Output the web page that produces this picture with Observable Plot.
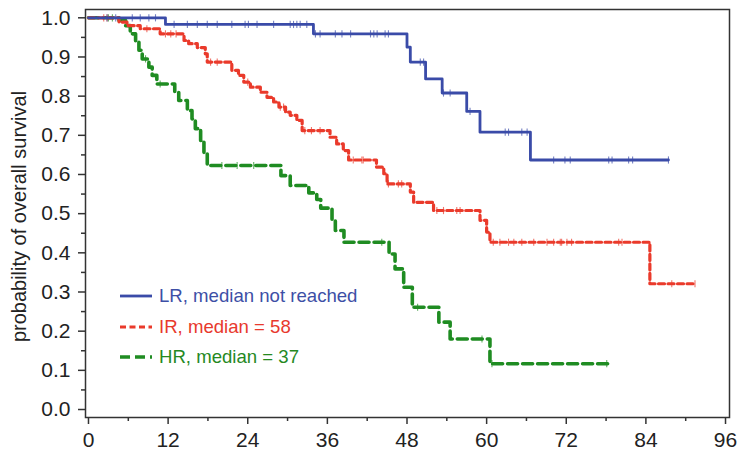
<!DOCTYPE html>
<html><head><meta charset="utf-8">
<script src="https://cdn.jsdelivr.net/npm/d3@7"></script>
<script src="https://cdn.jsdelivr.net/npm/@observablehq/plot@0.6"></script>
<style>
body{margin:0;background:#fff;font-family:"Liberation Sans",Arial,sans-serif}
#wrap{position:relative;width:743px;height:453px}
#legend{position:absolute;left:120px;top:281px;font-size:18.6px}
.row{display:flex;align-items:center;height:30.5px;white-space:nowrap}
.row svg{margin-right:7px;flex:none}
</style></head><body><div id="wrap"><div id="legend"></div></div>
<script>
// ---- data (months, survival probability) ----
const lrTimes = [0, 11.6, 33.9, 48.0, 48.5, 50.8, 53.3, 57.0, 59.0, 66.6];
const lrSurv  = [1.0, 0.983, 0.959, 0.925, 0.887, 0.844, 0.808, 0.761, 0.708, 0.637];
const lrEnd = 87.4;
const lrCensor = [2.8, 4.1, 6.6, 7.8, 9.1, 10.1, 12.9, 14.9, 16.4, 17.9, 19.4, 21.6, 23.6, 24.1, 25.4, 27.9, 30.4, 30.9, 31.4, 31.9, 32.9,
  34.2, 34.9, 37.2, 38.2, 39.5, 42.5, 43.0, 43.5, 44.7, 45.2, 50.0, 50.5, 53.5, 54.5, 57.5, 62.8, 63.3, 65.3, 66.1,
  70.1, 71.8, 72.6, 78.4, 78.9, 81.4, 82.0, 87.4];

const irTimes = [0, 4.6, 5.8, 7.8, 10.8, 14.4, 15.1, 16.4, 17.6, 17.9, 21.6, 22.6, 23.4, 24.4, 25.9, 26.9, 27.9, 28.7, 29.7, 30.4, 31.4, 32.2,
  36.4, 37.4, 38.4, 39.2, 43.4, 44.5, 45.0, 48.5, 49.0, 52.0, 59.0, 60.0, 60.5, 84.6];
const irSurv  = [1.0, 0.989, 0.980, 0.972, 0.959, 0.942, 0.934, 0.924, 0.908, 0.887, 0.866, 0.853, 0.836, 0.823, 0.810, 0.797, 0.785, 0.772, 0.759, 0.751, 0.738, 0.712,
  0.695, 0.678, 0.661, 0.637, 0.619, 0.602, 0.576, 0.555, 0.529, 0.508, 0.483, 0.453, 0.427, 0.321];
const irEnd = 91.4;
const irCensor = [2.3, 2.8, 8.8, 11.6, 12.4, 13.2, 18.4, 19.4, 24.0, 28.9, 29.4, 32.6, 33.6, 34.9, 39.9, 41.2, 41.4, 45.2, 46.7, 47.2,
  52.5, 53.5, 55.5, 56.0, 61.0, 62.0, 63.3, 64.1, 65.3, 67.1, 69.1, 70.1, 71.1, 71.3, 72.1, 72.8, 79.9, 80.4, 87.9, 91.4];

const hrTimes = [0, 4.6, 5.6, 6.3, 7.1, 7.6, 8.1, 9.1, 9.6, 10.3, 13.0, 13.6, 14.9, 15.6, 16.1, 16.9, 17.4, 17.9, 29.0, 30.4, 33.2, 34.4, 35.0,
  36.7, 37.2, 38.5, 45.3, 46.2, 47.5, 48.8, 52.8, 54.5, 60.5];
const hrSurv  = [1.0, 0.993, 0.980, 0.959, 0.938, 0.917, 0.895, 0.874, 0.853, 0.831, 0.810, 0.789, 0.763, 0.742, 0.717, 0.687, 0.653, 0.623, 0.597, 0.572, 0.553, 0.536, 0.514,
  0.483, 0.457, 0.427, 0.397, 0.359, 0.312, 0.261, 0.223, 0.180, 0.117];
const hrEnd = 78.4;
const hrCensor = [3.0, 3.6, 8.6, 10.8, 20.1, 22.4, 24.9, 44.2, 49.6, 59.3, 60.8, 78.1];

const groups = ["LR", "IR", "HR"];
const legendLabels = ["LR, median not reached", "IR, median = 58", "HR, median = 37"];
const colors = ["#3a4ba8", "#ea3a2b", "#1f8c22"];
const textColors = ["#3d4fa6", "#e8392d", "#26891f"];
const dashes = [null, "6,3.5", "10,5"];
const widths = [2.8, 3.2, 3.6];

const xTicks = [0, 12, 24, 36, 48, 60, 72, 84, 96];
const xMinor = [6, 18, 30, 42, 54, 66, 78, 90];
const yTicks = [0, 0.1, 0.2, 0.3, 0.4, 0.5, 0.6, 0.7, 0.8, 0.9, 1.0];
const yMinor = [0.05, 0.15, 0.25, 0.35, 0.45, 0.55, 0.65, 0.75, 0.85, 0.95];
const yLabel = "probability of overall survival";

// ---- build tables ----
const series = [
  {times: lrTimes, surv: lrSurv, end: lrEnd, cens: lrCensor},
  {times: irTimes, surv: irSurv, end: irEnd, cens: irCensor},
  {times: hrTimes, surv: hrSurv, end: hrEnd, cens: hrCensor}
];
function stepAt(s, t) {
  let v = s.surv[0];
  for (let i = 0; i < s.times.length; i++) if (s.times[i] <= t) v = s.surv[i];
  return v;
}
const curves = series.map(s => {
  const rows = s.times.map((t, i) => ({t, s: s.surv[i]}));
  rows.push({t: s.end, s: s.surv[s.surv.length - 1]});
  return rows;
});
const censors = series.map(s => s.cens.map(t => ({t, s: stepAt(s, t)})));

const vbar = {draw(ctx, size) { const r = Math.sqrt(size / Math.PI); ctx.moveTo(0, -r); ctx.lineTo(0, r); }};

const marks = [
  Plot.axisX({ticks: xTicks, tickSize: 7, tickPadding: 8, label: null, strokeWidth: 1.5, stroke: "#333", fill: "#222", fontSize: 21}),
  Plot.axisX({ticks: xMinor, tickSize: 4, tickFormat: () => "", label: null, strokeWidth: 1.5, stroke: "#333"}),
  Plot.axisY({ticks: yTicks, tickSize: 7, tickPadding: 8, tickFormat: d3.format(".1f"), label: null, strokeWidth: 1.5, stroke: "#333", fill: "#222", fontSize: 21}),
  Plot.axisY({ticks: yMinor, tickSize: 4, tickFormat: () => "", label: null, strokeWidth: 1.5, stroke: "#333"}),
  Plot.frame({stroke: "#333", strokeWidth: 1.5})
];
[2, 1, 0].forEach(i => {
  marks.push(Plot.dot(censors[i], {x: "t", y: "s", symbol: vbar, r: 3.6, stroke: colors[i], strokeWidth: 1.1, strokeOpacity: 0.7}));
  marks.push(Plot.line(curves[i], {x: "t", y: "s", curve: "step-after", stroke: colors[i], strokeWidth: widths[i], strokeDasharray: dashes[i] || undefined}));
});
marks.push(Plot.text([yLabel], {frameAnchor: "left", text: d => d, rotate: -90, dx: -66, dy: 3, fontSize: 20, fill: "#222", textAnchor: "middle", lineAnchor: "middle"}));

const chart = Plot.plot({
  width: 743, height: 453,
  marginLeft: 85, marginRight: 14, marginTop: 9, marginBottom: 36,
  style: {fontFamily: "Liberation Sans, Arial, sans-serif", fontSize: "21px", color: "#222", background: "white"},
  x: {domain: [-0.45, 96.6]},
  y: {domain: [-0.0204, 1.0212]},
  marks
});
const wrap = document.getElementById("wrap");
wrap.insertBefore(chart, wrap.firstChild);

// legend
const legend = document.getElementById("legend");
groups.forEach((g, i) => {
  const row = document.createElement("div");
  row.className = "row";
  row.innerHTML = `<svg width="32" height="8"><line x1="0" x2="32" y1="4" y2="4" stroke="${colors[i]}" stroke-width="${widths[i]}" ${dashes[i] ? `stroke-dasharray="${dashes[i]}"` : ""}/></svg><span style="color:${textColors[i]}">${legendLabels[i]}</span>`;
  legend.appendChild(row);
});
</script></body></html>
